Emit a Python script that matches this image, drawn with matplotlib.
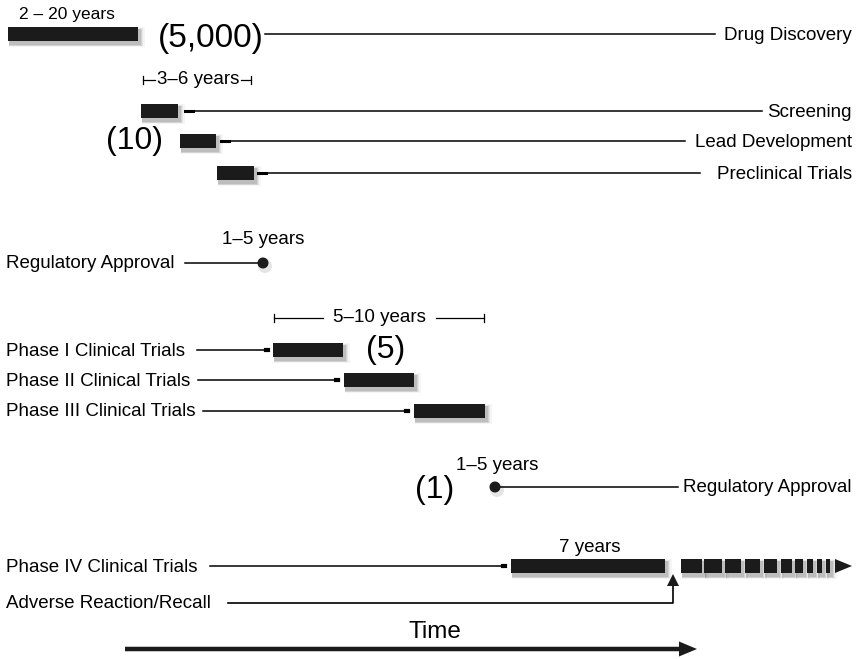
import matplotlib
matplotlib.use("Agg")
import matplotlib.pyplot as plt
from matplotlib.patches import Rectangle, Circle, Polygon, FancyArrow

plt.rcParams['font.family'] = ['Liberation Sans', 'DejaVu Sans']

# ---- data (diagram coordinates: x = time position, y = row position, pixels) ----
stage_names = ["Drug Discovery", "Screening", "Lead Development", "Preclinical Trials",
               "Phase I Clinical Trials", "Phase II Clinical Trials", "Phase III Clinical Trials",
               "Phase IV Clinical Trials"]
stage_start = [8, 141, 180, 217, 273, 344, 414, 511]
stage_end = [138, 178, 216, 254, 343, 414, 485, 665]
stage_row = [34, 111, 141, 173, 350, 380, 411, 566]
label_side = ["right", "right", "right", "right", "left", "left", "left", "left"]
line_far = [715, 762, 685, 700, 197, 198, 203, 210]   # where connector reaches the label
line_near = [265, 186, 222, 259, 268, 338, 408, 505]  # where connector meets the bar

approval_x = [263, 495]
approval_row = [263, 487]
approval_side = ["left", "right"]
approval_line = [185, 678]

counts = ["(5,000)", "(10)", "(5)", "(1)"]
count_x = [211, 135, 386, 435]
count_y = [38, 141, 350, 490]
count_fs = [24, 23, 23, 23]

durations = ["2 – 20 years", "1–5 years", "1–5 years", "7 years"]
dur_x = [67, 263, 497, 590]
dur_y = [15, 240, 465, 548]
dur_fs = [12.5, 13.5, 13.5, 13.5]

# post-marketing dashed continuation segments (start, end)
dash_start = [681, 704, 725, 745, 764, 781, 795, 807, 817, 826]
dash_end = [702, 722, 741, 760, 777, 792, 803, 813, 822, 830]

W, H = 857, 659
fig = plt.figure(figsize=(W / 100, H / 100), dpi=100)
ax = fig.add_axes([0, 0, 1, 1])
ax.set_xlim(0, W)
ax.set_ylim(H, 0)
ax.axis("off")

BAR_H = 14
BAR_C = "#1b1b1b"
FS = 13.5


def bar(x0, x1, yc, h=BAR_H):
    # soft shadow
    for k, a in [(6, 0.04), (4, 0.06), (3, 0.08), (2, 0.1)]:
        ax.add_patch(Rectangle((x0 + 1, yc - h / 2 + 3 - k / 2), x1 - x0 + k, h + k,
                               facecolor="black", alpha=a, lw=0, zorder=2))
    ax.add_patch(Rectangle((x0, yc - h / 2), x1 - x0, h, facecolor=BAR_C, lw=0, zorder=3))


for i, name in enumerate(stage_names):
    y = stage_row[i]
    bar(stage_start[i], stage_end[i], y)
    if label_side[i] == "right":
        ax.plot([line_near[i], line_far[i]], [y, y], color="black", lw=1.1, zorder=1)
        if i > 0:
            ax.plot([line_near[i] - 1, line_near[i] + 7], [y, y], color="black", lw=2.2, zorder=1)
        ax.text(852, y + 1.5, name, ha="right", va="center", fontsize=FS)
    else:
        ax.plot([line_far[i], line_near[i]], [y, y], color="black", lw=1.1, zorder=1)
        ax.plot([line_near[i] - 2, line_near[i]], [y, y], color="black", lw=3, zorder=1)
        ax.text(6, y + 1, name, ha="left", va="center", fontsize=FS)

# regulatory approvals
for i in range(2):
    x, y = approval_x[i], approval_row[i]
    ax.add_patch(Circle((x + 2, y + 3), 7, facecolor="black", alpha=0.1, lw=0, zorder=2))
    ax.add_patch(Circle((x, y), 5.5, facecolor=BAR_C, lw=0, zorder=3))
    ax.plot(sorted([x, approval_line[i]]), [y, y], color="black", lw=1.1, zorder=1)
    if approval_side[i] == "left":
        ax.text(6, y + 1, "Regulatory Approval", ha="left", va="center", fontsize=FS)
    else:
        ax.text(852, y + 1, "Regulatory Approval", ha="right", va="center", fontsize=FS)

for t, x, y, fs in zip(counts, count_x, count_y, count_fs):
    ax.text(x, y, t, ha="center", va="center", fontsize=fs)

for t, x, y, fs in zip(durations, dur_x, dur_y, dur_fs):
    ax.text(x, y, t, ha="center", va="center", fontsize=fs)

# span brackets
ax.text(198, 80, "3–6 years", ha="center", va="center", fontsize=FS)
ax.plot([143, 155], [80, 80], color="black", lw=0.9)
ax.plot([143, 143], [76, 84], color="black", lw=0.9)
ax.plot([241, 251], [80, 80], color="black", lw=0.9)
ax.plot([251, 251], [76, 84], color="black", lw=0.9)

ax.text(379, 318, "5–10 years", ha="center", va="center", fontsize=FS)
ax.plot([274, 323], [318, 318], color="black", lw=0.9)
ax.plot([274, 274], [314, 322], color="black", lw=0.9)
ax.plot([436, 484], [318, 318], color="black", lw=0.9)
ax.plot([484, 484], [314, 322], color="black", lw=0.9)

# dashed continuation of Phase IV
y4 = stage_row[-1]
for s, e in zip(dash_start, dash_end):
    bar(s, e, y4)
ax.add_patch(Polygon([[835, y4 - 7], [835, y4 + 7], [852, y4]], closed=True,
                     facecolor=BAR_C, lw=0, zorder=3))

# adverse reaction / recall
ax.text(6, 604, "Adverse Reaction/Recall", ha="left", va="center", fontsize=FS)
ax.plot([228, 673, 673], [603, 603, 584], color="black", lw=1.2, zorder=1)
ax.add_patch(Polygon([[667, 586], [679, 586], [673, 574]], closed=True,
                     facecolor=BAR_C, lw=0, zorder=3))

# time arrow
ax.text(435, 632, "Time", ha="center", va="center", fontsize=17.5)
ax.add_patch(FancyArrow(125, 649, 572, 0, width=4.5, head_width=15, head_length=18,
                        length_includes_head=True, facecolor=BAR_C, edgecolor=BAR_C, lw=0))

fig.savefig("out.png", dpi=100)
